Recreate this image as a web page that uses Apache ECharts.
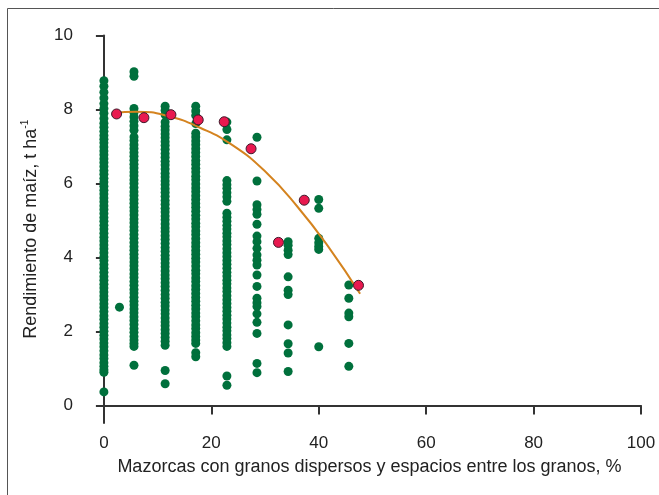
<!DOCTYPE html>
<html>
<head>
<meta charset="utf-8">
<script src="https://cdn.jsdelivr.net/npm/echarts@6/dist/echarts.min.js"></script>
<style>
  html, body { margin: 0; padding: 0; background: #fff; }
  #chart { width: 659px; height: 495px; }
</style>
</head>
<body>
<div id="chart"></div>
<script>
// Ear columns: share of ears with scattered kernels / gaps (%), and the yields observed in each.
const columnX = [0, 5.6, 11.4, 17.1, 22.9, 28.5, 34.3, 40.0, 45.6];
const yield0 = [8.78, 8.63, 8.47, 8.31, 8.16, 8.03, 7.9, 7.76, 7.63, 7.52, 7.41, 7.3, 7.2, 7.1, 6.99, 6.88, 6.78, 6.67, 6.57, 6.46, 6.35, 6.25, 6.14, 6.04, 5.93, 5.82, 5.72, 5.61, 5.51, 5.4, 5.3, 5.19, 5.08, 4.98, 4.87, 4.77, 4.66, 4.55, 4.45, 4.34, 4.24, 4.13, 4.02, 3.92, 3.81, 3.71, 3.6, 3.49, 3.39, 3.28, 3.18, 3.07, 2.96, 2.86, 2.75, 2.65, 2.54, 2.43, 2.33, 2.22, 2.12, 2.01, 1.9, 1.8, 1.69, 1.59, 1.48, 1.37, 1.27, 1.16, 1.06, 0.97, 0.9, 0.37];
const yield6 = [9.02, 8.9, 8.03, 7.92, 7.8, 7.68, 7.56, 7.44, 7.26, 7.16, 7.05, 6.95, 6.84, 6.74, 6.63, 6.52, 6.42, 6.31, 6.21, 6.1, 6.0, 5.89, 5.78, 5.68, 5.57, 5.47, 5.36, 5.26, 5.15, 5.04, 4.94, 4.83, 4.73, 4.62, 4.52, 4.41, 4.3, 4.2, 4.09, 3.99, 3.88, 3.78, 3.67, 3.56, 3.46, 3.35, 3.25, 3.14, 3.04, 2.93, 2.82, 2.72, 2.61, 2.51, 2.4, 2.3, 2.19, 2.08, 1.98, 1.87, 1.77, 1.68, 1.6, 1.09];
const yield11 = [8.09, 7.98, 7.86, 7.66, 7.55, 7.45, 7.34, 7.24, 7.13, 7.03, 6.92, 6.81, 6.71, 6.6, 6.5, 6.39, 6.28, 6.18, 6.07, 5.97, 5.86, 5.76, 5.65, 5.54, 5.44, 5.33, 5.23, 5.12, 5.02, 4.91, 4.8, 4.7, 4.59, 4.49, 4.38, 4.27, 4.17, 4.06, 3.96, 3.85, 3.75, 3.64, 3.53, 3.43, 3.32, 3.22, 3.11, 3.0, 2.9, 2.79, 2.69, 2.58, 2.48, 2.37, 2.26, 2.16, 2.05, 1.95, 1.84, 1.74, 1.63, 0.95, 0.59];
const yield17 = [8.09, 7.96, 7.84, 7.62, 7.36, 7.26, 7.15, 7.05, 6.94, 6.84, 6.73, 6.62, 6.52, 6.41, 6.31, 6.2, 6.1, 5.99, 5.88, 5.78, 5.67, 5.57, 5.46, 5.36, 5.25, 5.14, 5.04, 4.93, 4.83, 4.72, 4.62, 4.51, 4.4, 4.3, 4.19, 4.09, 3.98, 3.88, 3.77, 3.66, 3.56, 3.45, 3.35, 3.24, 3.14, 3.03, 2.92, 2.82, 2.71, 2.61, 2.5, 2.4, 2.29, 2.18, 2.08, 1.97, 1.87, 1.77, 1.68, 1.43, 1.32];
const yield23 = [7.66, 7.46, 7.18, 6.08, 5.97, 5.87, 5.75, 5.64, 5.52, 5.2, 5.09, 4.98, 4.87, 4.77, 4.66, 4.56, 4.45, 4.35, 4.24, 4.13, 4.03, 3.92, 3.82, 3.71, 3.6, 3.5, 3.39, 3.29, 3.18, 3.08, 2.97, 2.86, 2.76, 2.65, 2.55, 2.44, 2.34, 2.23, 2.12, 2.02, 1.91, 1.81, 1.7, 1.6, 0.8, 0.55];
const yield28 = [7.25, 6.07, 5.43, 5.3, 5.17, 4.9, 4.58, 4.43, 4.25, 4.07, 3.93, 3.8, 3.53, 3.22, 2.9, 2.78, 2.68, 2.48, 2.25, 1.95, 1.14, 0.89];
const yield34 = [4.43, 4.33, 4.2, 4.08, 3.48, 3.12, 3.0, 2.18, 1.67, 1.42, 0.92];
const yield40 = [5.57, 5.33, 4.52, 4.4, 4.3, 4.22, 1.59];
const yield46 = [3.26, 2.9, 2.5, 2.4, 1.68, 1.06];
const columnYields = [yield0, yield6, yield11, yield17, yield23, yield28, yield34, yield40, yield46];

// A single observation off the columns.
const extraX = [2.9];
const extraY = [2.66];

// Mean yield per class (red markers).
const meanX = [2.36, 7.45, 12.48, 17.56, 22.4, 27.4, 32.5, 37.3, 47.4];
const meanY = [7.88, 7.78, 7.86, 7.72, 7.67, 6.94, 4.41, 5.55, 3.25];

// Fitted response curve.
const curveX = [1.7, 6, 12, 18, 24, 30, 36, 42, 47.7];
const curveY = [7.9, 7.94, 7.82, 7.5, 7.03, 6.33, 5.38, 4.25, 3.02];

// Axis ticks.
const xTicks = [0, 20, 40, 60, 80, 100];
const yTicks = [0, 2, 4, 6, 8, 10];

const obsData = [];
columnX.forEach((x, i) => columnYields[i].forEach(y => obsData.push([x, y])));
extraX.forEach((x, i) => obsData.push([x, extraY[i]]));
const meanData = meanX.map((x, i) => [x, meanY[i]]);
const curveData = curveX.map((x, i) => [x, curveY[i]]);

const axisColor = '#333';
const textColor = '#222';
const fontFamily = '"Liberation Sans", Arial, Helvetica, sans-serif';

const chart = echarts.init(document.getElementById('chart'), null, { renderer: 'canvas' });
chart.setOption({
  animation: false,
  backgroundColor: '#fff',
  graphic: [{
    type: 'rect',
    shape: { x: 7.5, y: 8.5, width: 700, height: 600 },
    style: { fill: 'none', stroke: '#555', lineWidth: 1 },
    silent: true
  }],
  grid: { left: 98, right: 18, top: 35.5, bottom: 72, containLabel: false },
  xAxis: {
    type: 'value',
    min: -1.1,
    max: 100,
    name: 'Mazorcas con granos dispersos y espacios entre los granos, %',
    nameLocation: 'middle',
    nameGap: 35,
    nameTextStyle: { fontSize: 18, color: textColor, fontFamily },
    axisLine: { show: true, lineStyle: { color: axisColor, width: 2 } },
    axisTick: { show: true, inside: false, length: 9, customValues: xTicks, lineStyle: { color: axisColor, width: 2 } },
    axisLabel: { customValues: xTicks, margin: 12, fontSize: 17, color: textColor, fontFamily },
    splitLine: { show: false }
  },
  yAxis: {
    type: 'value',
    min: -0.47,
    max: 10,
    name: '{b|Rendimiento de maíz, t ha}{s|-1}',
    nameLocation: 'middle',
    nameGap: 56,
    nameRotate: 90,
    nameTextStyle: {
      color: textColor, fontFamily,
      rich: {
        b: { fontSize: 18, color: textColor, fontFamily, lineHeight: 22 },
        s: { fontSize: 10, color: textColor, fontFamily, lineHeight: 22, verticalAlign: 'top' }
      }
    },
    axisLine: { show: true, lineStyle: { color: axisColor, width: 2 } },
    axisTick: { show: true, inside: false, length: 8, customValues: yTicks, lineStyle: { color: axisColor, width: 2 } },
    axisLabel: { customValues: yTicks, margin: 25, fontSize: 17, color: textColor, fontFamily },
    splitLine: { show: false }
  },
  series: [
    {
      type: 'scatter',
      data: obsData,
      symbol: 'circle',
      symbolSize: 9,
      itemStyle: { color: '#00703c', opacity: 1 },
      z: 2
    },
    {
      type: 'line',
      data: curveData,
      smooth: true,
      showSymbol: false,
      symbol: 'none',
      lineStyle: { color: '#d4831f', width: 2 },
      z: 3
    },
    {
      type: 'scatter',
      data: meanData,
      symbol: 'circle',
      symbolSize: 10,
      itemStyle: { color: '#e8194f', borderColor: '#3d1a2a', borderWidth: 1, opacity: 1 },
      z: 4
    }
  ]
});
</script>
</body>
</html>
